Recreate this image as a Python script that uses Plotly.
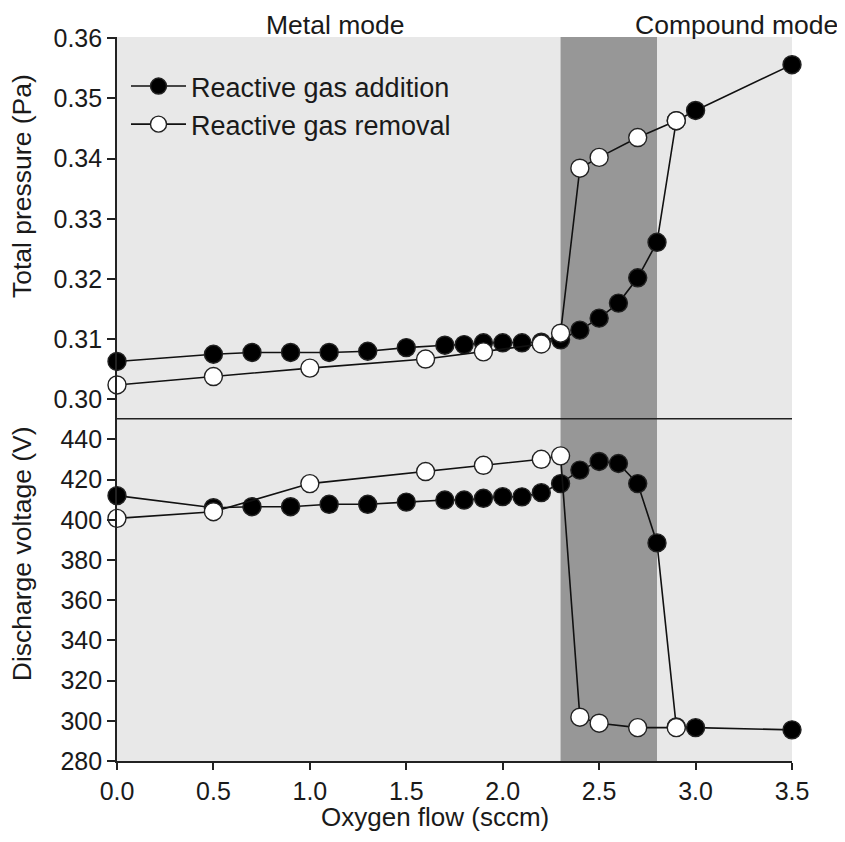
import plotly.graph_objects as go

# ---- data ----
add_flow = [0.0, 0.5, 0.7, 0.9, 1.1, 1.3, 1.5, 1.7, 1.8, 1.9, 2.0, 2.1, 2.2, 2.3, 2.4, 2.5, 2.6, 2.7, 2.8, 2.9, 3.0, 3.5]
add_pressure = [0.3063, 0.3075, 0.3078, 0.3078, 0.3078, 0.3080, 0.3086, 0.3090, 0.3091, 0.3094, 0.3094, 0.3094, 0.3095,
                0.3099, 0.3115, 0.3135, 0.3160, 0.3202, 0.3261, 0.3463, 0.3480, 0.3556]
add_voltage = [412, 406, 406.5, 406.5, 407.7, 407.7, 408.8, 409.8, 409.8, 410.7, 411.5, 411.4, 413.5,
               418, 424.7, 429, 428, 418, 388.5, 297, 296.6, 295.5]

rem_flow = [0.0, 0.5, 1.0, 1.6, 1.9, 2.2, 2.3, 2.4, 2.5, 2.7, 2.9]
rem_pressure = [0.3024, 0.3038, 0.3052, 0.3067, 0.3079, 0.3092, 0.3110, 0.3384, 0.3402, 0.3435, 0.3463]
rem_voltage = [400.7, 404.0, 418.0, 424.0, 427.1, 430.1, 431.8, 301.8, 298.8, 296.6, 296.6]

transition = [2.3, 2.8]
x_ticks = [0.0, 0.5, 1.0, 1.5, 2.0, 2.5, 3.0, 3.5]
p_ticks = [0.30, 0.31, 0.32, 0.33, 0.34, 0.35, 0.36]
v_ticks = [280, 300, 320, 340, 360, 380, 400, 420, 440]

FONT = "Liberation Sans, Arial, sans-serif"
TXT = "#1a1a1a"
MS = 18

# page is shown with an 8px body margin: work in figure pixels
W, H = 837, 834
L, R, T, B = 109, 53, 29, 81.3
PW, PH = W - L - R, H - T - B
split = 342.2 / PH

def px(xp):  # page x -> paper
    return (xp - 8 - L) / PW

def py(yp):  # page y -> paper
    return 1 - (yp - 8 - T) / PH

fig = go.Figure()

def add_series(x, y, yaxis, filled, name, show):
    fig.add_trace(go.Scatter(
        x=x, y=y, xaxis="x", yaxis=yaxis, mode="lines+markers", name=name,
        showlegend=show, legendgroup=name, cliponaxis=False,
        line=dict(color="#111111", width=1.6),
        marker=dict(size=MS, symbol="circle",
                    color="#000000" if filled else "#ffffff",
                    line=dict(color="#222222", width=1.4)),
    ))

add_series(add_flow, add_pressure, "y", True, "Reactive gas addition", True)
add_series(rem_flow, rem_pressure, "y", False, "Reactive gas removal", True)
add_series(add_flow, add_voltage, "y2", True, "Reactive gas addition", False)
add_series(rem_flow, rem_voltage, "y2", False, "Reactive gas removal", False)

shapes = []
for yr in ["y domain", "y2 domain"]:
    shapes.append(dict(type="rect", xref="x", yref=yr, x0=transition[0], x1=transition[1],
                       y0=0, y1=1, fillcolor="#979797", line=dict(width=0), layer="below"))
shapes.append(dict(type="line", xref="x domain", yref="paper", x0=0, x1=1, y0=split, y1=split,
                   line=dict(color="#222222", width=1.5), layer="above"))

def axis_common(ticklen):
    return dict(showline=True, linecolor="#222222", linewidth=1.6, ticks="outside",
                ticklen=ticklen, tickwidth=1.6, tickcolor="#222222", showgrid=False, zeroline=False,
                automargin=False, tickfont=dict(family=FONT, size=25, color=TXT))

def label(text, x, y, size=27, angle=0, yanchor="middle"):
    return dict(text=text, x=x, y=y, xref="paper", yref="paper", showarrow=False,
                textangle=angle, xanchor="center", yanchor=yanchor,
                font=dict(family=FONT, size=size, color=TXT))

fig.update_layout(
    width=W, height=H,
    margin=dict(l=L, r=R, t=T, b=B, autoexpand=False),
    paper_bgcolor="white", plot_bgcolor="#e8e8e8",
    font=dict(family=FONT, color=TXT),
    xaxis=dict(range=[0, 3.5], anchor="y2", tickvals=x_ticks,
               ticktext=[f"{v:.1f}" for v in x_ticks], **axis_common(7)),
    yaxis=dict(domain=[split, 1], range=[0.2968, 0.3602], anchor="x", tickvals=p_ticks,
               ticktext=[f"{v:.2f}" for v in p_ticks], **axis_common(8)),
    yaxis2=dict(domain=[0, split], range=[280, 450.3], anchor="x", tickvals=v_ticks, **axis_common(8)),
    shapes=shapes,
    showlegend=True,
    legend=dict(x=px(126), y=py(62), xanchor="left", yanchor="top", bgcolor="rgba(0,0,0,0)",
                font=dict(family=FONT, size=27, color=TXT), itemwidth=55, tracegroupgap=0),
    annotations=[
        label("Metal mode", px(335), 1 + T / PH, size=26.5, yanchor="top"),
        label("Compound mode", px(736), 1 + T / PH, size=26.5, yanchor="top"),
        label("Oxygen flow (sccm)", px(435), py(817), size=26),
        label("Total pressure (Pa)", px(22), py(186), size=26.5, angle=-90),
        label("Discharge voltage (V)", px(22), py(554), size=26.5, angle=-90),
    ],
)

fig.write_html("out.html")
